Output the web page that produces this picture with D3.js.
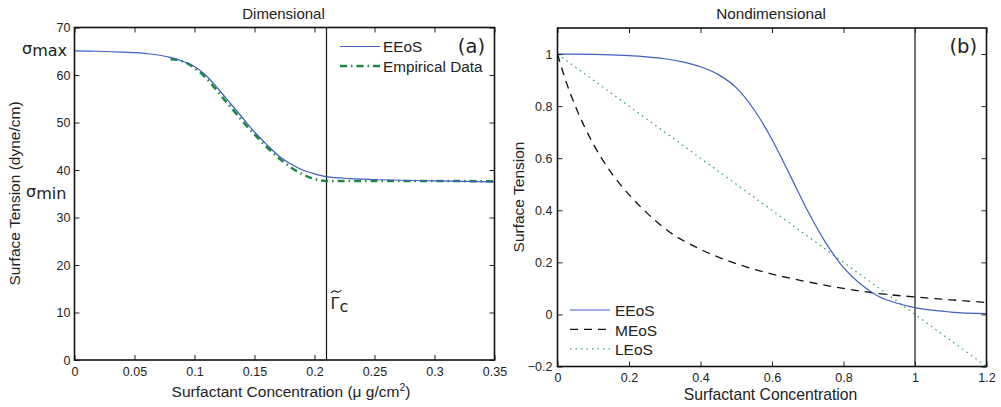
<!DOCTYPE html>
<html>
<head>
<meta charset="utf-8">
<script src="https://cdn.jsdelivr.net/npm/d3@7"></script>
<style>
  body { margin: 0; background: #fff; }
  svg text { font-family: "Liberation Sans", Arial, sans-serif; fill: #222; }
  .sym { font-family: "DejaVu Sans", sans-serif; }
</style>
</head>
<body>
<svg id="svg1" width="1001" height="407"></svg>
<script>
// ---- data ----
var dimX        = [0, 0.02, 0.04, 0.06, 0.08, 0.09, 0.1, 0.11, 0.12, 0.13, 0.14, 0.15, 0.16, 0.17, 0.18, 0.19, 0.2, 0.21, 0.23, 0.25, 0.3, 0.35];
var dimEEoS     = [65.1, 65.0, 64.8, 64.5, 63.7, 62.9, 61.8, 59.8, 57.0, 54.0, 51.0, 48.0, 45.4, 43.0, 41.3, 40.0, 39.2, 38.6, 38.2, 38.0, 37.7, 37.5];
var empX        = [0.08, 0.09, 0.1, 0.11, 0.12, 0.13, 0.14, 0.15, 0.16, 0.17, 0.18, 0.19, 0.2, 0.21, 0.25, 0.3, 0.35];
var empData     = [63.3, 62.9, 61.5, 59.3, 56.3, 53.3, 50.3, 47.5, 44.9, 42.6, 40.6, 39.1, 38.1, 37.7, 37.7, 37.7, 37.6];
var gammaC      = 0.21;

var ndX         = [0, 0.1, 0.2, 0.25, 0.3, 0.35, 0.4, 0.45, 0.5, 0.55, 0.6, 0.65, 0.7, 0.75, 0.8, 0.85, 0.9, 0.95, 1.0, 1.1, 1.2];
var ndEEoS      = [1.0, 0.999, 0.994, 0.989, 0.982, 0.97, 0.951, 0.921, 0.871, 0.786, 0.672, 0.536, 0.397, 0.276, 0.18, 0.114, 0.068, 0.043, 0.026, 0.009, 0.003];
var meosX       = [0, 0.025, 0.05, 0.1, 0.15, 0.2, 0.25, 0.3, 0.4, 0.5, 0.6, 0.7, 0.8, 0.9, 1.0, 1.1, 1.2];
var ndMEoS      = [1.0, 0.89, 0.8, 0.655, 0.545, 0.46, 0.39, 0.33, 0.25, 0.195, 0.155, 0.125, 0.1, 0.08, 0.067, 0.056, 0.046];
var leosX       = [0, 1.2];
var ndLEoS      = [1.0, -0.2];
var ndCrit      = 1.0;

var dimXTicks   = [0, 0.05, 0.1, 0.15, 0.2, 0.25, 0.3, 0.35];
var dimYTicks   = [0, 10, 20, 30, 40, 50, 60, 70];
var ndXTicks    = [0, 0.2, 0.4, 0.6, 0.8, 1, 1.2];
var ndYTicks    = [-0.2, 0, 0.2, 0.4, 0.6, 0.8, 1];

var blue = '#3f5fbf', dkGreen = '#1d8a3e', ltGreen = '#34a862';

var svg = d3.select('svg');

function frame(g, x, y, xt, yt, padX, padY) {
    var x0 = x.range()[0], x1 = x.range()[1], y0 = y.range()[0], y1 = y.range()[1];
    g.append('g').attr('transform', 'translate(0,' + y0 + ')')
        .call(d3.axisBottom(x).tickValues(xt).tickSizeInner(-5).tickSizeOuter(0).tickPadding(padX).tickFormat(d3.format('')));
    g.append('g').attr('transform', 'translate(0,' + y1 + ')')
        .call(d3.axisTop(x).tickValues(xt).tickSizeInner(-5).tickSizeOuter(0).tickFormat(''));
    g.append('g').attr('transform', 'translate(' + x0 + ',0)')
        .call(d3.axisLeft(y).tickValues(yt).tickSizeInner(-5).tickSizeOuter(0).tickPadding(padY).tickFormat(d3.format('')));
    g.append('g').attr('transform', 'translate(' + x1 + ',0)')
        .call(d3.axisRight(y).tickValues(yt).tickSizeInner(-5).tickSizeOuter(0).tickFormat(''));
    g.selectAll('.domain').remove();
    g.selectAll('.tick line').attr('stroke', '#222');
    g.selectAll('.tick text').attr('font-size', 12.5).attr('font-family', '"Liberation Sans", Arial, sans-serif').attr('fill', '#222');
    g.append('rect').attr('x', x0).attr('y', y1).attr('width', x1 - x0).attr('height', y0 - y1)
        .attr('fill', 'none').attr('stroke', '#111').attr('stroke-width', 1.6);
}

function series(g, x, y, xs, ys, stroke, width, dash) {
    var line = d3.line().x(function(d){ return x(d[0]); }).y(function(d){ return y(d[1]); }).curve(d3.curveMonotoneX);
    g.append('path').datum(xs.map(function(v, i){ return [v, ys[i]]; }))
        .attr('d', line).attr('fill', 'none').attr('stroke', stroke)
        .attr('stroke-width', width).attr('stroke-dasharray', dash || null);
}

// ---- left panel: dimensional ----
var xL = d3.scaleLinear().domain([0, 0.35]).range([74.5, 494.5]);
var yL = d3.scaleLinear().domain([0, 70]).range([360, 27.5]);
var gL = svg.append('g');

gL.append('line').attr('x1', xL(gammaC)).attr('x2', xL(gammaC)).attr('y1', yL(0)).attr('y2', yL(70))
    .attr('stroke', '#111').attr('stroke-width', 1.2);
series(gL, xL, yL, empX, empData, dkGreen, 2.6, '7,4,1.5,4');
series(gL, xL, yL, dimX, dimEEoS, blue, 1.2);
frame(gL, xL, yL, dimXTicks, dimYTicks, 7, 4);

gL.append('text').attr('x', 283.5).attr('y', 18.5).attr('text-anchor', 'middle').attr('font-size', 15).text('Dimensional');
gL.append('text').attr('x', 291).attr('y', 397).attr('text-anchor', 'middle').attr('font-size', 15.5)
    .html('Surfactant Concentration (\u03bc g/cm<tspan dy="-6" font-size="10.5">2</tspan><tspan dy="6">)</tspan>');
gL.append('text').attr('transform', 'translate(19.5,193.5) rotate(-90)').attr('text-anchor', 'middle').attr('font-size', 15.5)
    .text('Surface Tension (dyne/cm)');

gL.append('text').attr('class', 'sym').attr('x', 22).attr('y', 53.5).attr('font-size', 16)
    .html('\u03c3<tspan dy="2">max</tspan>');
gL.append('text').attr('class', 'sym').attr('x', 26).attr('y', 197).attr('font-size', 16)
    .html('\u03c3<tspan dy="2">min</tspan>');
gL.append('text').attr('class', 'sym').attr('x', 330.5).attr('y', 309).attr('font-size', 16)
    .html('\u0393<tspan dy="2.7">c</tspan>');
// tilde accent over the Gamma
gL.append('path').attr('d', 'M331,293 q2.5,-3.2 5.2,-1.5 t5.2,-1.5')
    .attr('fill', 'none').attr('stroke', '#222').attr('stroke-width', 1.1);
gL.append('text').attr('class', 'sym').attr('x', 485).attr('y', 52.5).attr('text-anchor', 'end').attr('font-size', 19.5).text('(a)');

var legL = [{name: 'EEoS', c: blue, w: 1.2, d: null}, {name: 'Empirical Data', c: dkGreen, w: 2.6, d: '7,4,1.5,4'}];
legL.forEach(function(d, i){
    var yy = 46.5 + i * 19.5;
    gL.append('line').attr('x1', 340).attr('x2', 380).attr('y1', yy).attr('y2', yy)
        .attr('stroke', d.c).attr('stroke-width', d.w).attr('stroke-dasharray', d.d);
    gL.append('text').attr('x', 383).attr('y', yy + 5.7).attr('font-size', 15.3).text(d.name);
});

// ---- right panel: nondimensional ----
var xR = d3.scaleLinear().domain([0, 1.2]).range([557.5, 986.5]);
var yR = d3.scaleLinear().domain([-0.2, 1.1]).range([366.5, 28]);
var gR = svg.append('g');

gR.append('line').attr('x1', xR(ndCrit)).attr('x2', xR(ndCrit)).attr('y1', yR(-0.2)).attr('y2', yR(1.1))
    .attr('stroke', '#111').attr('stroke-width', 1.2);
series(gR, xR, yR, leosX, ndLEoS, ltGreen, 1.3, '1.5,4');
series(gR, xR, yR, meosX, ndMEoS, '#111', 1.3, '8,6');
series(gR, xR, yR, ndX, ndEEoS, blue, 1.2);
frame(gR, xR, yR, ndXTicks, ndYTicks, 7, 5);

gR.append('text').attr('x', 771).attr('y', 18.5).attr('text-anchor', 'middle').attr('font-size', 15.3).text('Nondimensional');
gR.append('text').attr('x', 770.5).attr('y', 400).attr('text-anchor', 'middle').attr('font-size', 15.7).text('Surfactant Concentration');
gR.append('text').attr('transform', 'translate(524,197) rotate(-90)').attr('text-anchor', 'middle').attr('font-size', 15.5)
    .text('Surface Tension');
gR.append('text').attr('class', 'sym').attr('x', 977).attr('y', 53).attr('text-anchor', 'end').attr('font-size', 19.5).text('(b)');

var legR = [{name: 'EEoS', c: blue, w: 1.2, d: null}, {name: 'MEoS', c: '#111', w: 1.3, d: '8,6'}, {name: 'LEoS', c: ltGreen, w: 1.3, d: '1.5,4'}];
legR.forEach(function(d, i){
    var yy = 310 + i * 19.4;
    gR.append('line').attr('x1', 570).attr('x2', 610).attr('y1', yy).attr('y2', yy)
        .attr('stroke', d.c).attr('stroke-width', d.w).attr('stroke-dasharray', d.d);
    gR.append('text').attr('x', 615).attr('y', yy + 6.2).attr('font-size', 15.5).text(d.name);
});
</script>
</body>
</html>
